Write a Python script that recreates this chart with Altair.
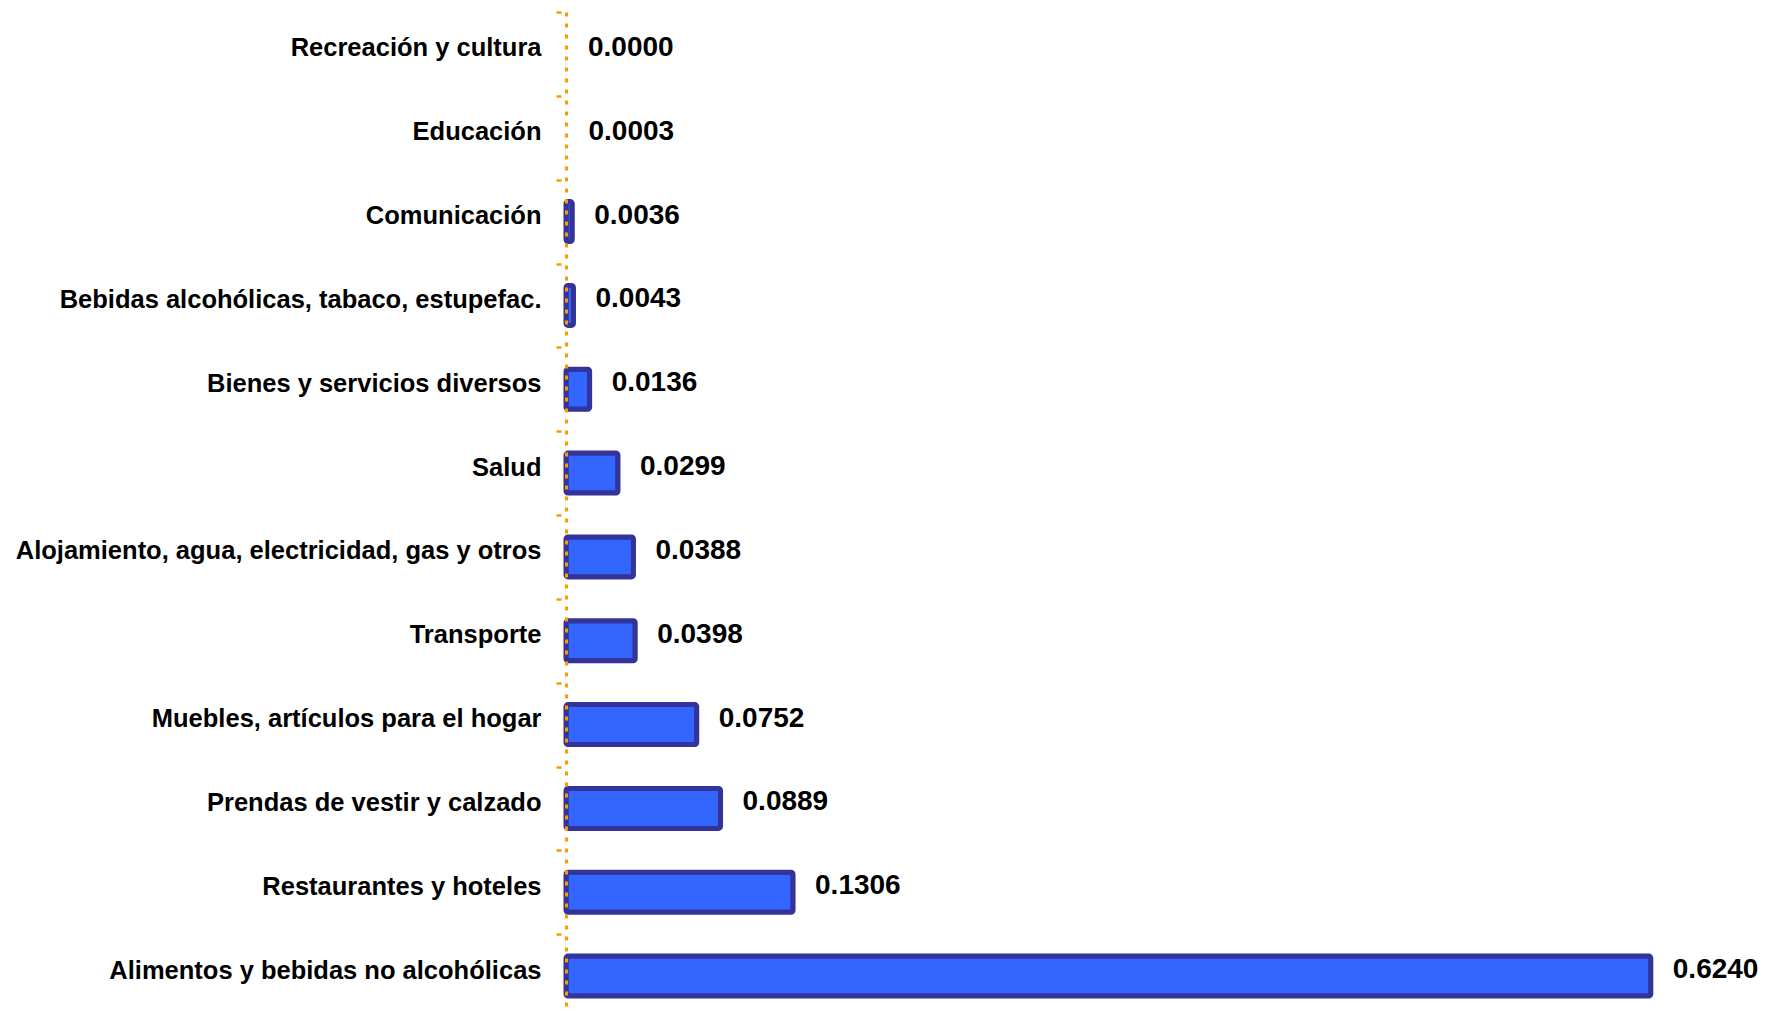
import altair as alt
import pandas as pd

categorias = [
    "Recreación y cultura",
    "Educación",
    "Comunicación",
    "Bebidas alcohólicas, tabaco, estupefac.",
    "Bienes y servicios diversos",
    "Salud",
    "Alojamiento, agua, electricidad, gas y otros",
    "Transporte",
    "Muebles, artículos para el hogar",
    "Prendas de vestir y calzado",
    "Restaurantes y hoteles",
    "Alimentos y bebidas no alcohólicas",
]
valores = [0.0000, 0.0003, 0.0036, 0.0043, 0.0136, 0.0299, 0.0388, 0.0398,
           0.0752, 0.0889, 0.1306, 0.6240]

df = pd.DataFrame({"categoria": categorias, "valor": valores})

FONT = "Liberation Sans"

y_enc = alt.Y(
    "categoria:N",
    sort=categorias,
    title=None,
    scale=alt.Scale(paddingInner=0, paddingOuter=0),
    axis=alt.Axis(
        labelFont=FONT,
        labelFontSize=25.5,
        labelFontWeight="bold",
        labelColor="black",
        labelLimit=0,
        labelPadding=15,
        labelOffset=-6,
        labelBaseline="middle",
        domainColor="#FF9900",
        domainWidth=3,
        domainDash=[4, 7],
        tickColor="#FF9900",
        tickWidth=2.5,
        tickSize=10,
        tickDash=[0, 5, 5],
        tickBand="extent",
        zindex=1,
    ),
)
x_enc = alt.X("valor:Q", axis=None, scale=alt.Scale(domain=[0, 0.65], nice=False))

bars = alt.Chart(df).transform_filter("datum.valor >= 0.001").mark_bar(
    size=40,
    fill="#3366FF",
    stroke="#333399",
    strokeWidth=5,
    cornerRadius=2,
).encode(x=x_enc, y=y_enc)

labels = alt.Chart(df).mark_text(
    align="left",
    baseline="middle",
    dx=22,
    dy=-6,
    font=FONT,
    fontSize=28,
    fontWeight="bold",
    color="black",
).encode(x=x_enc, y=y_enc, text=alt.Text("valor:Q", format=".4f"))

chart = (
    alt.layer(bars, labels)
    .properties(
        width=1130,
        height=1006,
        autosize=alt.AutoSizeParams(type="none"),
        padding={"top": 4, "left": 558, "right": 70, "bottom": -7},
    )
    .configure_view(stroke=None)
)

chart.save("out.html", embed_options={"renderer": "svg", "actions": False})
